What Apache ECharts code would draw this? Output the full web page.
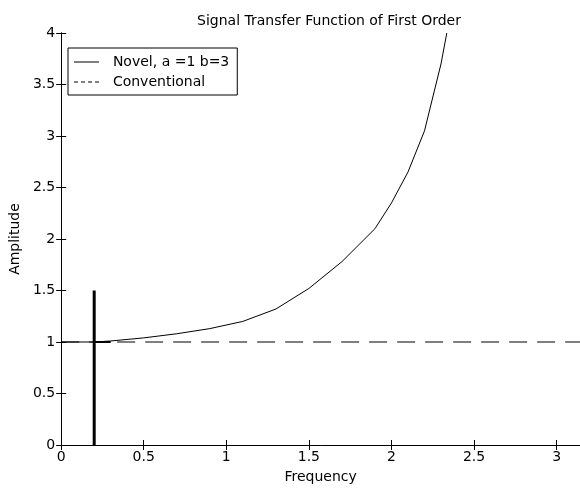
<!DOCTYPE html>
<html>
<head>
<meta charset="utf-8">
<script src="https://cdn.jsdelivr.net/npm/echarts@6/dist/echarts.min.js"></script>
<style>
  html, body { margin: 0; padding: 0; background: #fff; }
  #chart { width: 580px; height: 491px; }
</style>
</head>
<body>
<div id="chart"></div>
<script>
// data
var novelX = [0, 0.2, 0.3, 0.5, 0.7, 0.9, 1.1, 1.3, 1.5, 1.7, 1.9, 2.0, 2.1, 2.2, 2.3, 2.335];
var novelY = [1, 1, 1.01, 1.04, 1.08, 1.13, 1.2, 1.32, 1.52, 1.78, 2.1, 2.35, 2.65, 3.05, 3.7, 4];
var convX = [0, Math.PI];
var convY = [1, 1];
var markX = [0.2, 0.2];
var markY = [0, 1.5];
var stubX = [0.2, 0.3];
var stubY = [1, 1];
var xTicks = [0, 0.5, 1, 1.5, 2, 2.5, 3];
var yTicks = [0, 0.5, 1, 1.5, 2, 2.5, 3, 3.5, 4];

function pairs(xs, ys) {
  var out = [];
  for (var i = 0; i < xs.length; i++) out.push([xs[i], ys[i]]);
  return out;
}

// legend samples: thin strip inside a 25x14 box (dots at corners keep the box size)
var solidIcon = 'path://M0,0L0,0ZM0,6.5H25V7.5H0ZM25,14L25,14Z';
var dashIcon = 'path://M0,0L0,0ZM0,6.5H4V7.5H0ZM7,6.5H11V7.5H7ZM14,6.5H18V7.5H14ZM21,6.5H25V7.5H21ZM25,14L25,14Z';

var font = 'DejaVu Sans, Liberation Sans, sans-serif';
var txt = { fontFamily: font, fontSize: 14, color: '#000' };
var chart = echarts.init(document.getElementById('chart'));

var axisBase = {
  type: 'value',
  axisLine: { show: true, lineStyle: { color: '#000', width: 1 } },
  axisTick: { show: true, inside: true, length: 5, lineStyle: { color: '#000' } },
  splitLine: { show: false }
};

chart.setOption({
  animation: false,
  backgroundColor: '#fff',
  title: {
    text: 'Signal Transfer Function of First Order',
    left: 324, top: 9, textAlign: 'center',
    textStyle: { fontFamily: font, fontSize: 14, fontWeight: 'normal', color: '#000' }
  },
  legend: {
    left: 68, top: 48,
    orient: 'vertical',
    backgroundColor: '#fff',
    borderColor: '#000', borderWidth: 1, borderRadius: 0,
    padding: [7, 8, 6, 6],
    itemGap: 6, itemWidth: 25, itemHeight: 14,
    textStyle: txt,
    formatter: function (n) { return '  ' + n; },
    data: [
      { name: 'Novel, a =1 b=3', icon: solidIcon, itemStyle: { color: '#000' } },
      { name: 'Conventional', icon: dashIcon, itemStyle: { color: '#000' } }
    ]
  },
  grid: { left: 59, top: 33, right: 0, bottom: 46 },
  xAxis: [
    Object.assign({}, axisBase, {
      min: 0, max: Math.PI, interval: 0.5,
      name: 'Frequency', nameLocation: 'middle', nameGap: 25,
      nameTextStyle: txt,
      axisLabel: Object.assign({ showMaxLabel: false, margin: 5,
        formatter: function (v) { return xTicks.indexOf(v) >= 0 ? String(v) : ''; } }, txt)
    }),
    Object.assign({}, axisBase, {
      position: 'top', min: 0, max: Math.PI, interval: 0.5,
      axisLabel: { show: false }
    })
  ],
  yAxis: [
    Object.assign({}, axisBase, {
      min: 0, max: 4, interval: 0.5,
      name: 'Amplitude', nameLocation: 'middle', nameGap: 33,
      nameTextStyle: txt,
      axisLabel: Object.assign({ margin: 6,
        formatter: function (v) { return yTicks.indexOf(v) >= 0 ? String(v) : ''; } }, txt)
    }),
    Object.assign({}, axisBase, {
      position: 'right', min: 0, max: 4, interval: 0.5,
      axisLabel: { show: false }
    })
  ],
  series: [
    {
      name: 'Conventional', type: 'line', symbol: 'none',
      lineStyle: { color: '#000', width: 1.2, type: [18, 10] },
      itemStyle: { color: '#000' },
      data: pairs(convX, convY)
    },
    {
      name: 'Novel, a =1 b=3', type: 'line', symbol: 'none',
      lineStyle: { color: '#000', width: 1 },
      itemStyle: { color: '#000' },
      data: pairs(novelX, novelY)
    },
    {
      name: 'marker', type: 'line', symbol: 'none',
      lineStyle: { color: '#000', width: 3 },
      data: pairs(markX, markY)
    },
    {
      name: 'stub', type: 'line', symbol: 'none',
      lineStyle: { color: '#000', width: 2 },
      data: pairs(stubX, stubY)
    }
  ]
});
</script>
</body>
</html>
